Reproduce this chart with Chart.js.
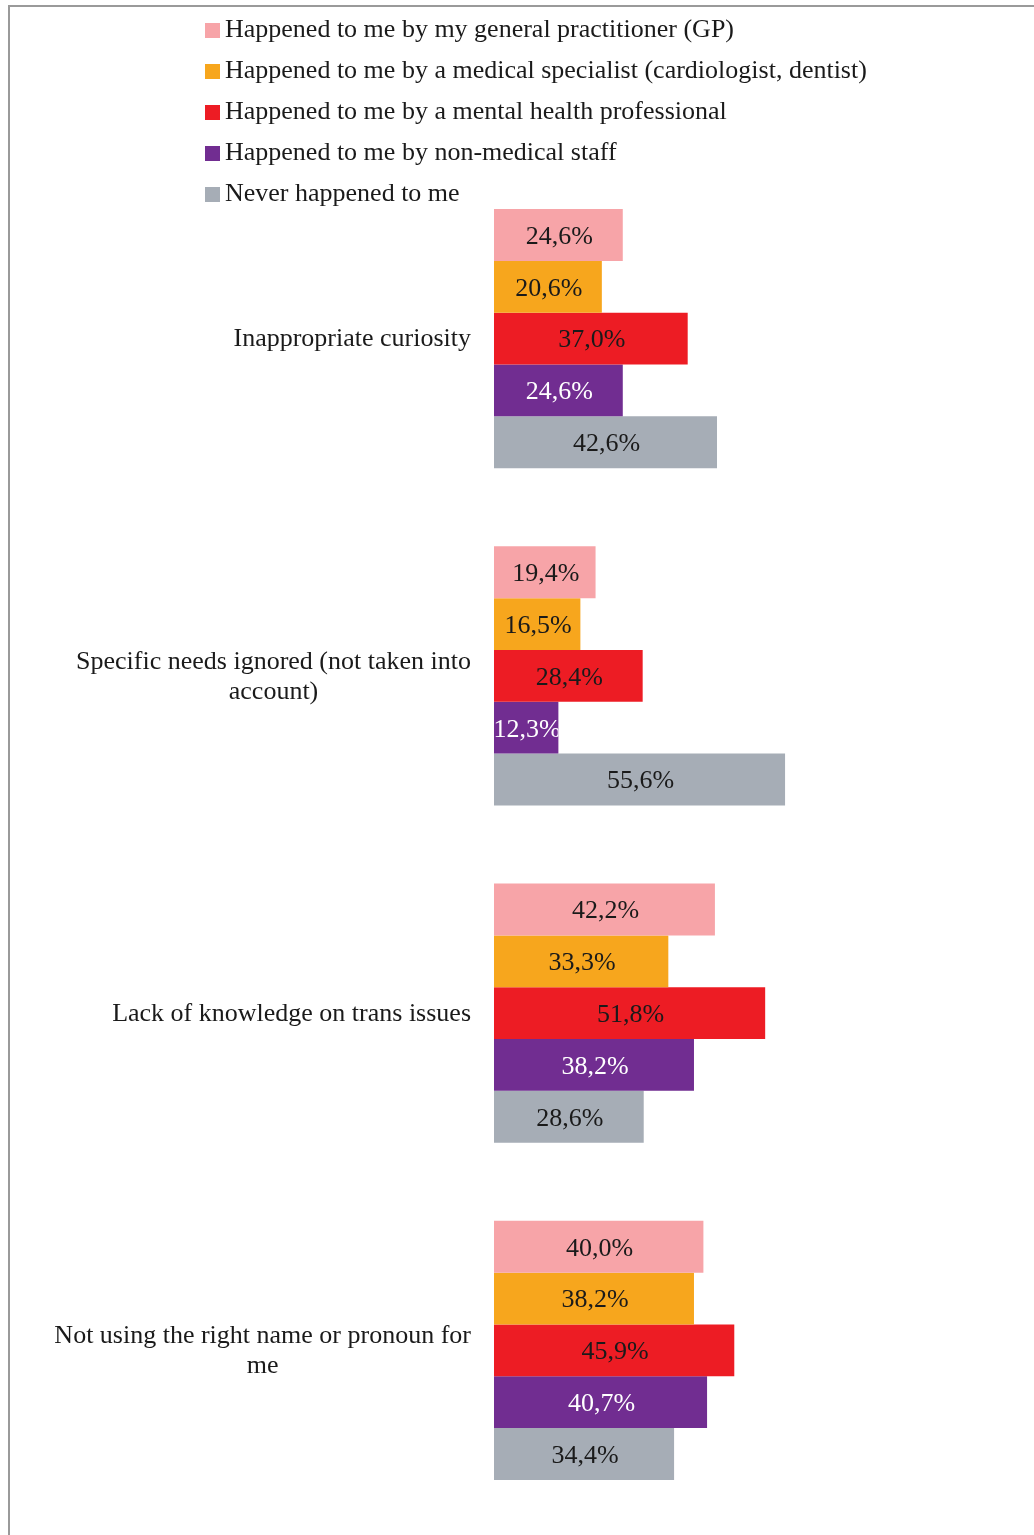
<!DOCTYPE html>
<html>
<head>
<meta charset="utf-8">
<script src="https://cdn.jsdelivr.net/npm/chart.js@4"></script>
<style>
  body { margin: 0; background: #fff; }
  #wrap { position: relative; width: 1034px; height: 1535px; }
  #frame {
    position: absolute; left: 8px; top: 5px; right: -4px; bottom: -4px;
    border-left: 2px solid #9a9a9a; border-top: 2px solid #9a9a9a;
  }
  #legend {
    position: absolute; left: 205px; top: 8px;
    font-family: "Liberation Serif", "DejaVu Serif", serif;
    font-size: 26px; color: #1a1a1a;
  }
  #legend div { height: 41px; line-height: 41px; white-space: nowrap; }
  #legend span.sw {
    display: inline-block; width: 15px; height: 15px; margin-right: 5px;
    vertical-align: -1px;
  }
  canvas { position: absolute; left: 0; top: 0; }
</style>
</head>
<body>
<div id="wrap">
  <div id="frame"></div>
  <canvas id="careChart" width="1034" height="1535"></canvas>
  <div id="legend"></div>
</div>
<script>
const categories = [
  ['Inappropriate curiosity'],
  ['Specific needs ignored (not taken into', 'account)'],
  ['Lack of knowledge on trans issues'],
  ['Not using the right name or pronoun for', 'me']
];
const seriesNames = [
  'Happened to me by my general practitioner (GP)',
  'Happened to me by a medical specialist (cardiologist, dentist)',
  'Happened to me by a mental health professional',
  'Happened to me by non-medical staff',
  'Never happened to me'
];
const gp = [24.6, 19.4, 42.2, 40.0];
const specialist = [20.6, 16.5, 33.3, 38.2];
const mentalHealth = [37.0, 28.4, 51.8, 45.9];
const nonMedical = [24.6, 12.3, 38.2, 40.7];
const neverHappened = [42.6, 55.6, 28.6, 34.4];

const colors = ['#f7a4a8', '#f7a61d', '#ed1c24', '#712d91', '#a6adb6'];
const labelColors = ['#1a1a1a', '#1a1a1a', '#1a1a1a', '#ffffff', '#1a1a1a'];
const serif = '"Liberation Serif", "DejaVu Serif", serif';

const fmt = v => v.toFixed(1).replace('.', ',') + '%';

// value labels, clipped to their own bar
const barLabels = {
  id: 'barLabels',
  afterDatasetsDraw(chart) {
    const ctx = chart.ctx;
    chart.data.datasets.forEach((ds, di) => {
      const meta = chart.getDatasetMeta(di);
      meta.data.forEach((bar, i) => {
        const p = bar.getProps(['x', 'y', 'base', 'height'], true);
        ctx.save();
        ctx.beginPath();
        ctx.rect(p.base, p.y - p.height / 2, p.x - p.base, p.height);
        ctx.clip();
        ctx.font = '26px ' + serif;
        ctx.fillStyle = labelColors[di];
        ctx.textAlign = 'center';
        ctx.textBaseline = 'middle';
        ctx.fillText(fmt(ds.data[i]), (p.base + p.x) / 2 + 1, p.y + 2);
        ctx.restore();
      });
    });
  }
};

// category names: block right-aligned, lines centred inside it
const categoryLabels = {
  id: 'categoryLabels',
  afterDraw(chart) {
    const ctx = chart.ctx;
    const yScale = chart.scales.y;
    const right = 471;
    ctx.save();
    ctx.font = '26px ' + serif;
    ctx.fillStyle = '#1a1a1a';
    ctx.textAlign = 'center';
    ctx.textBaseline = 'middle';
    categories.forEach((lines, i) => {
      const y = yScale.getPixelForValue(i);
      const w = Math.max(...lines.map(l => ctx.measureText(l).width));
      const cx = right - w / 2;
      const lh = 30;
      lines.forEach((l, k) => {
        ctx.fillText(l, cx, y + 1 + (k - (lines.length - 1) / 2) * lh);
      });
    });
    ctx.restore();
  }
};

const seriesData = [gp, specialist, mentalHealth, nonMedical, neverHappened];

const chart = new Chart(document.getElementById('careChart'), {
  type: 'bar',
  data: {
    labels: categories,
    datasets: seriesData.map((d, i) => ({
      label: seriesNames[i],
      data: d,
      backgroundColor: colors[i],
      borderWidth: 0,
      barPercentage: 1,
      categoryPercentage: 0.768
    }))
  },
  options: {
    indexAxis: 'y',
    responsive: false,
    animation: false,
    layout: { padding: { left: 494, right: 16.5, top: 170, bottom: 16 } },
    plugins: {
      legend: { display: false },
      tooltip: { enabled: false }
    },
    scales: {
      x: { display: false, min: 0, max: 100 },
      y: { display: false }
    }
  },
  plugins: [barLabels, categoryLabels]
});

document.getElementById('legend').innerHTML = chart.data.datasets.map(ds => `
  <div><span class="sw" style="background:${ds.backgroundColor}"></span>${ds.label}</div>
`).join('');
</script>
</body>
</html>
